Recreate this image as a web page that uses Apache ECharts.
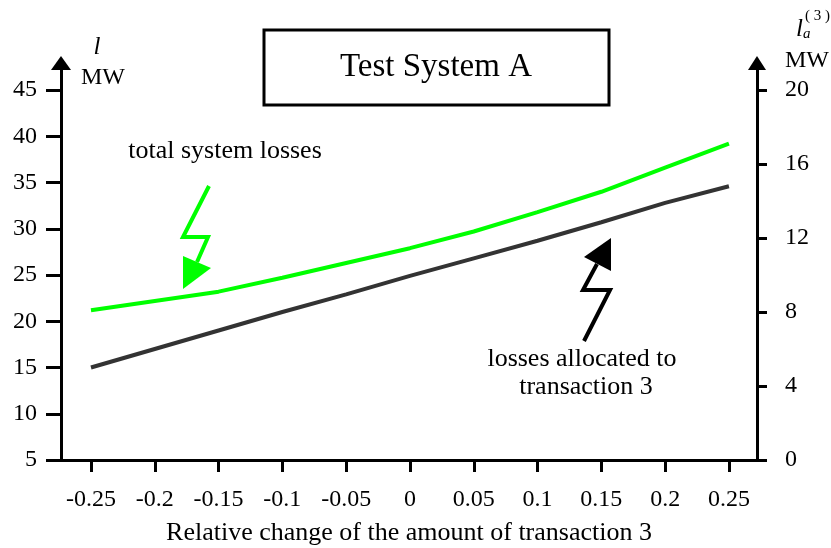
<!DOCTYPE html>
<html>
<head>
<meta charset="utf-8">
<script src="https://cdn.jsdelivr.net/npm/echarts@6/dist/echarts.min.js"></script>
<style>
  html, body { margin: 0; padding: 0; background: #fff; }
  #main { width: 831px; height: 548px; }
</style>
</head>
<body>
<div id="main"></div>
<script type="text/javascript">
// data
var xs = [-0.25, -0.2, -0.15, -0.1, -0.05, 0, 0.05, 0.1, 0.15, 0.2, 0.25];
var totalLosses = [21.2, 22.2, 23.2, 24.7, 26.3, 27.9, 29.7, 31.8, 34.0, 36.6, 39.2];
var allocLosses = [5.0, 6.0, 7.0, 8.0, 8.95, 9.95, 10.9, 11.85, 12.85, 13.9, 14.8];
var leftTicks = [5, 10, 15, 20, 25, 30, 35, 40, 45];
var rightTicks = [0, 4, 8, 12, 16, 20];

function pairs(a, b) {
    var out = [];
    for (var i = 0; i < a.length; i++) out.push([a[i], b[i]]);
    return out;
}

var font = 'Liberation Serif';
var black = '#000';

var myChart = echarts.init(document.getElementById('main'));
myChart.setOption({
    animation: false,
    backgroundColor: '#fff',
    grid: { left: 61, right: 74, top: 63, bottom: 88, outerBoundsMode: 'none' },
    xAxis: {
        type: 'value',
        min: -0.2735,
        max: 0.272,
        name: 'Relative change of the amount of transaction 3',
        nameLocation: 'middle',
        nameGap: 60,
        nameTextStyle: { fontFamily: font, fontSize: 26, color: black },
        axisLine: { onZero: false, lineStyle: { color: black, width: 3 } },
        axisTick: { show: true, length: 12, lineStyle: { color: black, width: 3 }, customValues: xs },
        axisLabel: { fontFamily: font, fontSize: 24, color: black, margin: 28, customValues: xs },
        splitLine: { show: false }
    },
    yAxis: [
        {
            type: 'value',
            min: 5,
            max: 47.92,
            position: 'left',
            axisLine: { show: true, onZero: false, symbol: ['none', 'triangle'], symbolSize: [20, 14], lineStyle: { color: black, width: 3 } },
            axisTick: { show: true, length: 15, lineStyle: { color: black, width: 3 }, customValues: leftTicks },
            axisLabel: { fontFamily: font, fontSize: 24, color: black, margin: 24, customValues: leftTicks },
            splitLine: { show: false }
        },
        {
            type: 'value',
            min: 0,
            max: 21.46,
            position: 'right',
            axisLine: { show: true, onZero: false, symbol: ['none', 'triangle'], symbolSize: [18, 14], lineStyle: { color: black, width: 3 } },
            axisTick: { show: true, length: 10, lineStyle: { color: black, width: 3 }, customValues: rightTicks },
            axisLabel: { fontFamily: font, fontSize: 24, color: black, margin: 28, customValues: rightTicks },
            splitLine: { show: false }
        }
    ],
    series: [
        {
            name: 'total system losses',
            type: 'line',
            yAxisIndex: 0,
            data: pairs(xs, totalLosses),
            showSymbol: false,
            lineStyle: { color: '#00ff00', width: 4 }
        },
        {
            name: 'losses allocated to transaction 3',
            type: 'line',
            yAxisIndex: 1,
            data: pairs(xs, allocLosses),
            showSymbol: false,
            lineStyle: { color: '#333333', width: 4 }
        }
    ],
    graphic: [
        // title box
        { type: 'rect', shape: { x: 264, y: 30, width: 345, height: 75 }, style: { fill: '#fff', stroke: black, lineWidth: 3 } },
        { type: 'text', x: 436, y: 67, style: { text: 'Test System A', font: '33px "Liberation Serif"', fill: black, align: 'center', verticalAlign: 'middle' } },
        // axis names
        { type: 'text', x: 97, y: 47, style: { text: 'l', font: 'italic 25px "Liberation Serif"', fill: black, align: 'center', verticalAlign: 'middle' } },
        { type: 'text', x: 103, y: 78, style: { text: 'MW', font: '24px "Liberation Serif"', fill: black, align: 'center', verticalAlign: 'middle' } },
        {
            type: 'text', x: 796, y: 29,
            style: {
                text: '{l|l}{a|a}',
                fill: black, verticalAlign: 'middle',
                rich: {
                    l: { fontFamily: font, fontStyle: 'italic', fontSize: 25 },
                    a: { fontFamily: font, fontStyle: 'italic', fontSize: 15, verticalAlign: 'bottom', padding: [6, 0, 0, 0] }
                }
            }
        },
        { type: 'text', x: 805, y: 16, style: { text: '( 3 )', font: '15px "Liberation Serif"', fill: black, verticalAlign: 'middle' } },
        { type: 'text', x: 807, y: 61, style: { text: 'MW', font: '24px "Liberation Serif"', fill: black, align: 'center', verticalAlign: 'middle' } },
        // annotations
        { type: 'text', x: 225, y: 151, style: { text: 'total system losses', font: '26px "Liberation Serif"', fill: black, align: 'center', verticalAlign: 'middle' } },
        { type: 'text', x: 582, y: 359, style: { text: 'losses allocated to', font: '26px "Liberation Serif"', fill: black, align: 'center', verticalAlign: 'middle' } },
        { type: 'text', x: 586, y: 387, style: { text: 'transaction 3', font: '26px "Liberation Serif"', fill: black, align: 'center', verticalAlign: 'middle' } },
        // green lightning arrow
        { type: 'polyline', shape: { points: [[209, 186], [183, 237], [208, 237], [197, 262]] }, style: { stroke: '#00ff00', lineWidth: 4, fill: null } },
        { type: 'polygon', shape: { points: [[183, 256], [211, 268], [183, 289]] }, style: { fill: '#00ff00' } },
        // black lightning arrow
        { type: 'polyline', shape: { points: [[584, 341], [610, 290], [583, 290], [597, 264]] }, style: { stroke: black, lineWidth: 4, fill: null } },
        { type: 'polygon', shape: { points: [[584, 257], [611, 238], [611, 271]] }, style: { fill: black } }
    ]
});
</script>
</body>
</html>
